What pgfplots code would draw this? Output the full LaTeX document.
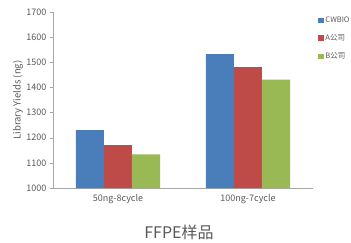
\documentclass[border=0pt]{standalone}
\usepackage{pgfplots}
\pgfplotsset{compat=1.18}
\usepackage{fontspec}
\setmainfont{Noto Sans CJK SC}
\definecolor{cwb}{HTML}{4A7EBB}
\definecolor{coa}{HTML}{BE4B48}
\definecolor{cob}{HTML}{98B954}
\definecolor{txt}{HTML}{595959}
\definecolor{axl}{HTML}{A6A6A6}
\begin{document}
\begin{tikzpicture}
\path[use as bounding box] (0,0) rectangle (351pt,242pt);
\begin{axis}[
  at={(53pt,54pt)}, anchor=south west,
  scale only axis, width=260pt, height=176pt,
  ymin=1000, ymax=1700, ytick={1000,1100,...,1700},
  xmin=-0.5, xmax=1.5,
  xtick={0,1}, xticklabels={50ng-8cycle,100ng-7cycle},
  minor xtick={-0.5,0.5,1.5},
  xtick style={draw=none},
  minor x tick style={axl, thin},
  y tick style={axl, thin},
  minor tick length=4pt, major tick length=3pt,
  tick align=outside,
  axis lines*=left,
  axis line style={axl, thin},
  ybar=0pt, bar width=28pt,
  /pgf/number format/assume math mode=true,
  /pgf/number format/set thousands separator={},
  tick label style={font=\fontsize{9}{10}\selectfont, text=txt},
  ylabel={Library Yields (ng)},
  ylabel style={font=\fontsize{9.5}{10}\selectfont, text=txt, at={(axis description cs:-0.135,0.5)}, anchor=center},
  legend style={at={(rel axis cs:1.02,0.985)}, anchor=north west, draw=none, fill=none,
    font=\fontsize{7.5}{9}\selectfont, text=txt, row sep=6.5pt, inner sep=0pt,
    nodes={inner xsep=1.5pt}},
  legend cell align=left,
  legend image code/.code={\fill[#1] (0pt,-2.8pt) rectangle (5.6pt,2.8pt);},
]
\addplot[fill=cwb, draw=none] coordinates {(0,1230) (1,1532)};
\addplot[fill=coa, draw=none] coordinates {(0,1171) (1,1481)};
\addplot[fill=cob, draw=none] coordinates {(0,1134) (1,1431)};
\legend{CWBIO,A公司,B公司}
\end{axis}
\node[text=txt, font=\fontsize{16}{18}\selectfont] at (179pt,10pt) {FFPE样品};
\end{tikzpicture}
\end{document}
